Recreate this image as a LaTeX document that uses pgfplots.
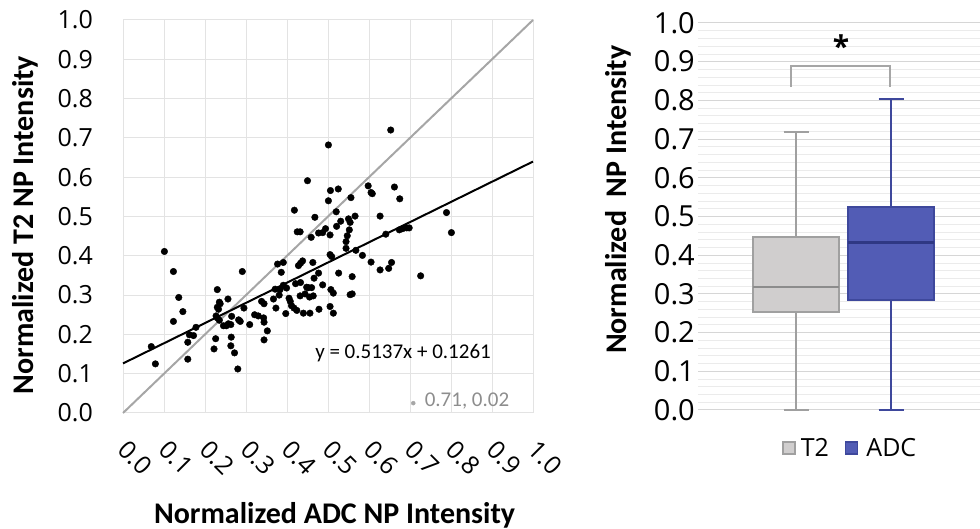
\documentclass[border=0pt]{standalone}
\usepackage{pgfplots}
\pgfplotsset{compat=1.18}
\usepgfplotslibrary{statistics}
\usepackage{fontspec}
\setmainfont{Open Sans}
\newfontfamily\carlito{Carlito}
\definecolor{gridc}{HTML}{E3E3E3}
\definecolor{idc}{HTML}{A6A6A6}
\definecolor{tgray}{HTML}{D0CECE}
\definecolor{tedge}{HTML}{A0A0A0}
\definecolor{tmed}{HTML}{8C8C8C}
\definecolor{ablue}{HTML}{525CB5}
\definecolor{aedge}{HTML}{3E489C}
\definecolor{amed}{HTML}{2F3884}
\begin{document}
\begin{tikzpicture}
\path[use as bounding box] (0,0) rectangle (980pt,529pt);
% ---------- left scatter ----------
\begin{axis}[
  at={(123pt,116pt)}, anchor=south west,
  scale only axis, width=410pt, height=393pt,
  xmin=0, xmax=1, ymin=0, ymax=1,
  xtick={0,0.1,...,1.0}, ytick={0,0.1,...,1.0},
  grid=major, major grid style={gridc, line width=1pt},
  axis line style={gridc, line width=1pt},
  tick style={draw=none},
  /pgf/number format/.cd, fixed, fixed zerofill, precision=1, assume math mode=true,
  /pgfplots/.cd,
  ticklabel style={font=\fontsize{25}{28}\selectfont, inner sep=0pt},
  yticklabel style={anchor=east, xshift=-30pt},
  xticklabel style={anchor=center, xshift=12pt, yshift=-45pt, rotate=-45},
  xlabel={\carlito\bfseries Normalized ADC NP Intensity},
  ylabel={\carlito\bfseries Normalized T2 NP Intensity},
  every axis x label/.style={at={(axis description cs:0.516,-0.26)}, anchor=center, font=\fontsize{30}{34}\selectfont},
  every axis y label/.style={at={(axis description cs:-0.239,0.478)}, anchor=center, rotate=90, font=\fontsize{30}{34}\selectfont},
  clip=false,
]
\addplot[idc, line width=2pt] coordinates {(0,0) (1,1)};
\addplot[black, line width=2pt] coordinates {(0,0.1261) (1,0.6398)};
\addplot[only marks, mark=*, mark size=3.3pt, black] table {
x y
0.653 0.720
0.501 0.682
0.450 0.591
0.506 0.566
0.525 0.570
0.501 0.540
0.556 0.548
0.598 0.578
0.605 0.561
0.608 0.558
0.662 0.575
0.675 0.545
0.418 0.516
0.520 0.512
0.468 0.498
0.627 0.501
0.789 0.510
0.801 0.459
0.531 0.488
0.550 0.494
0.566 0.501
0.521 0.475
0.425 0.461
0.432 0.461
0.477 0.458
0.487 0.459
0.494 0.469
0.505 0.453
0.459 0.447
0.554 0.485
0.552 0.466
0.547 0.451
0.544 0.436
0.544 0.419
0.641 0.455
0.674 0.466
0.682 0.469
0.692 0.471
0.698 0.471
0.568 0.414
0.584 0.401
0.505 0.403
0.509 0.398
0.438 0.387
0.433 0.381
0.428 0.375
0.377 0.379
0.391 0.383
0.386 0.358
0.463 0.383
0.605 0.384
0.627 0.364
0.648 0.368
0.655 0.383
0.726 0.349
0.526 0.356
0.559 0.347
0.477 0.356
0.466 0.343
0.421 0.329
0.433 0.332
0.448 0.320
0.452 0.319
0.460 0.319
0.487 0.326
0.507 0.314
0.513 0.305
0.554 0.301
0.559 0.303
0.391 0.325
0.399 0.318
0.383 0.314
0.371 0.315
0.367 0.290
0.381 0.300
0.432 0.298
0.444 0.303
0.455 0.295
0.464 0.298
0.405 0.292
0.408 0.284
0.411 0.273
0.417 0.267
0.424 0.261
0.440 0.254
0.456 0.254
0.478 0.264
0.505 0.271
0.513 0.254
0.397 0.253
0.373 0.267
0.338 0.284
0.344 0.278
0.321 0.250
0.330 0.247
0.343 0.242
0.344 0.231
0.352 0.209
0.344 0.186
0.295 0.267
0.291 0.360
0.309 0.225
0.282 0.237
0.286 0.233
0.265 0.246
0.263 0.225
0.257 0.227
0.252 0.222
0.245 0.222
0.264 0.193
0.263 0.171
0.272 0.153
0.280 0.112
0.256 0.290
0.230 0.314
0.235 0.282
0.237 0.278
0.230 0.269
0.233 0.264
0.227 0.247
0.230 0.242
0.235 0.236
0.226 0.189
0.222 0.163
0.178 0.218
0.162 0.199
0.172 0.197
0.158 0.180
0.158 0.137
0.123 0.233
0.146 0.258
0.136 0.294
0.123 0.360
0.101 0.411
0.069 0.169
0.079 0.125
};
\addplot[only marks, mark=*, mark size=2pt, idc] coordinates {(0.708,0.025)};
\node[font=\carlito\fontsize{21}{24}\selectfont, anchor=center] at (axis cs:0.683,0.153) {y = 0.5137x + 0.1261};
\node[font=\carlito\fontsize{21}{24}\selectfont, text=idc!85!black, anchor=center] at (axis cs:0.839,0.03) {0.71, 0.02};
\end{axis}
% ---------- right box plot ----------
\begin{axis}[
  at={(698pt,119pt)}, anchor=south west,
  scale only axis, width=282pt, height=387pt,
  xmin=0, xmax=2.82, ymin=0, ymax=1,
  xtick=\empty,
  ytick={0,0.1,...,1.0}, minor y tick num=4,
  ymajorgrids, yminorgrids,
  major grid style={draw=black!16, line width=1pt},
  minor grid style={draw=black!8, line width=0.8pt},
  axis line style={draw=none},
  tick style={draw=none},
  /pgf/number format/.cd, fixed, fixed zerofill, precision=1, assume math mode=true,
  /pgfplots/.cd,
  yticklabel style={font=\fontsize{29}{32}\selectfont, inner sep=0pt, anchor=east, xshift=-3pt},
  ylabel={\carlito\bfseries Normalized\ \ NP Intensity},
  every axis y label/.style={at={(axis description cs:-0.284,0.543)}, anchor=center, rotate=90, font=\fontsize{30}{34}\selectfont},
  clip=false,
  boxplot/draw direction=y,
  legend style={at={(axis description cs:0.54,-0.098)}, anchor=center, draw=none, fill=none,
    font=\fontsize{25}{28}\selectfont, legend columns=2,
    /tikz/every even column/.append style={column sep=14pt}},
  legend image code/.code={\draw[#1, line width=1.5pt] (0pt,-6pt) rectangle (12pt,6pt);},
]
\addlegendimage{draw=tedge, fill=tgray}
\addlegendentry{\hspace{3pt}T2}
\addlegendimage{draw=aedge, fill=ablue}
\addlegendentry{\hspace{6pt}ADC}
\addplot[boxplot prepared={lower whisker=0, lower quartile=0.252, median=0.318, upper quartile=0.446, upper whisker=0.719, draw position=0.98, box extend=0.86, whisker extend=0.25, draw direction=y},
  boxplot/every median/.style={draw=tmed, line width=2.5pt},
  boxplot/every whisker/.style={line width=1.6pt},
  draw=tedge, fill=tgray, line width=2pt, forget plot] coordinates {};
\addplot[boxplot prepared={lower whisker=0, lower quartile=0.284, median=0.433, upper quartile=0.525, upper whisker=0.803, draw position=1.93, box extend=0.86, whisker extend=0.25, draw direction=y},
  boxplot/every median/.style={draw=amed, line width=2.5pt},
  boxplot/every whisker/.style={line width=1.6pt},
  draw=aedge, fill=ablue, line width=2pt, forget plot] coordinates {};
\addplot[idc, line width=1.8pt, forget plot] coordinates {(0.93,0.834) (0.93,0.889) (1.92,0.889) (1.92,0.834)};
\node[font=\bfseries\fontsize{30}{34}\selectfont] at (axis cs:1.43,0.94) {*};
\end{axis}
\end{tikzpicture}
\end{document}
